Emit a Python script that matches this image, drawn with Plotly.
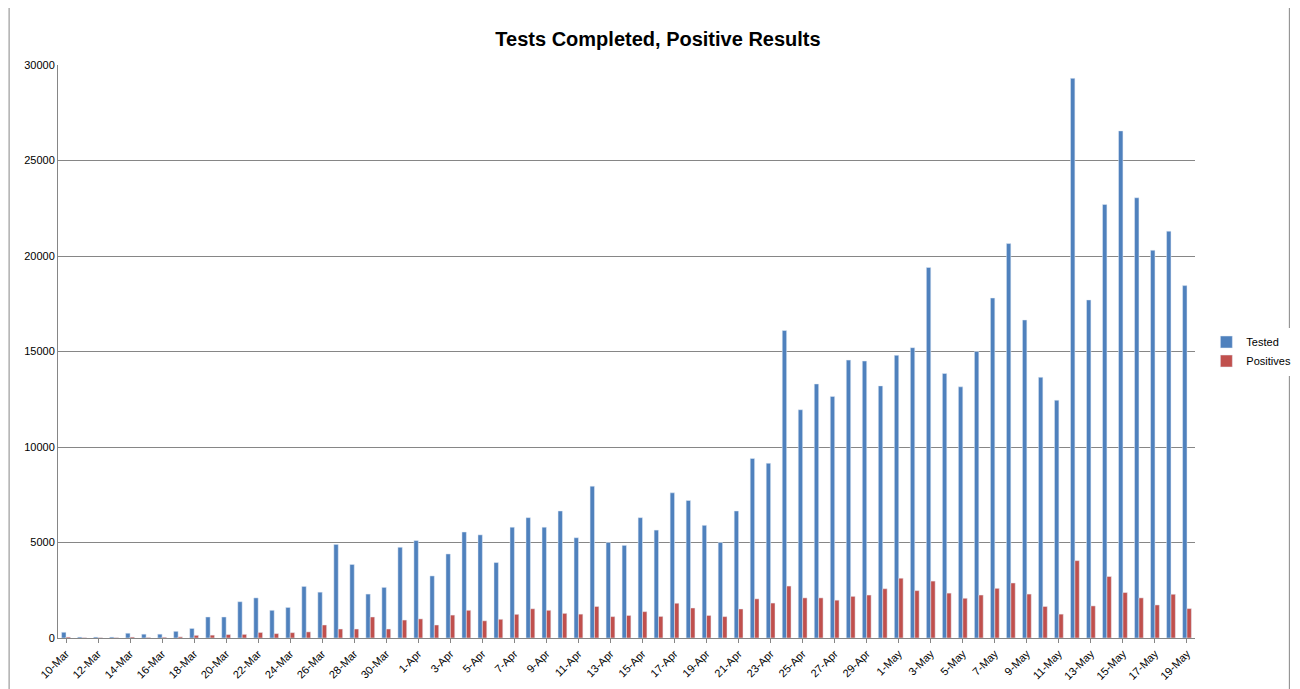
import plotly.graph_objects as go

dates = ([f"{d}-Mar" for d in range(10, 32)] + [f"{d}-Apr" for d in range(1, 31)]
         + [f"{d}-May" for d in range(1, 20)])

tested = [300, 50, 50, 50, 250, 200, 200, 350, 500, 1100, 1100, 1900, 2100, 1450, 1600, 2700,
          2400, 4900, 3850, 2300, 2650, 4750,
          5100, 3250, 4400, 5550, 5400, 3950, 5800, 6300, 5800, 6650, 5250, 7950, 5000, 4850,
          6300, 5650, 7600, 7200, 5900, 5000, 6650, 9400, 9150, 16100, 11950, 13300, 12650,
          14550, 14500, 13200,
          14800, 15200, 19400, 13850, 13150, 15000, 17800, 20650, 16650, 13650, 12450, 29300,
          17700, 22700, 26550, 23050, 20300, 21300, 18450]

positives = [50, 20, 20, 20, 50, 30, 40, 60, 140, 150, 180, 190, 290, 230, 280, 320,
             680, 470, 470, 1100, 470, 940,
             1000, 680, 1200, 1450, 900, 980, 1240, 1530, 1450, 1290, 1250, 1650, 1120, 1180,
             1380, 1130, 1820, 1570, 1180, 1120, 1520, 2050, 1830, 2720, 2100, 2100, 1980,
             2180, 2250, 2580,
             3130, 2480, 2980, 2350, 2080, 2250, 2600, 2880, 2300, 1650, 1250, 4050,
             1680, 3220, 2380, 2100, 1730, 2290, 1540]

fig = go.Figure()
fig.add_trace(go.Bar(x=dates, y=tested, name="Tested", marker_color="#4F81BD"))
fig.add_trace(go.Bar(x=dates, y=positives, name="Positives", marker_color="#C0504D"))

fig.update_layout(
    width=1300, height=689,
    title=dict(text="<b>Tests Completed, Positive Results</b>", x=0.5, y=0.965,
               font=dict(size=20, color="black")),
    font=dict(family="Liberation Sans, Arial", size=11, color="black"),
    plot_bgcolor="white", paper_bgcolor="white",
    margin=dict(l=50, r=97, t=57, b=59),
    barmode="group", bargap=0.45, bargroupgap=0,
    legend=dict(x=1.01, y=0.5, yanchor="middle", font=dict(size=11), tracegroupgap=8),
    xaxis=dict(tickmode="array", tickvals=dates[::2], tickangle=-45, showline=True,
               linecolor="#868686", ticks="outside", ticklen=4, tickcolor="#868686"),
    yaxis=dict(range=[0, 30000], dtick=5000, gridcolor="#868686", showline=True,
               linecolor="#868686", tickformat="d", zeroline=False),
    shapes=[dict(type="rect", xref="paper", yref="paper", x0=-0.043, x1=1.083,
                 y0=-0.107, y1=1.107, line=dict(color="#868686", width=1))],
)

fig.write_html("out.html")
